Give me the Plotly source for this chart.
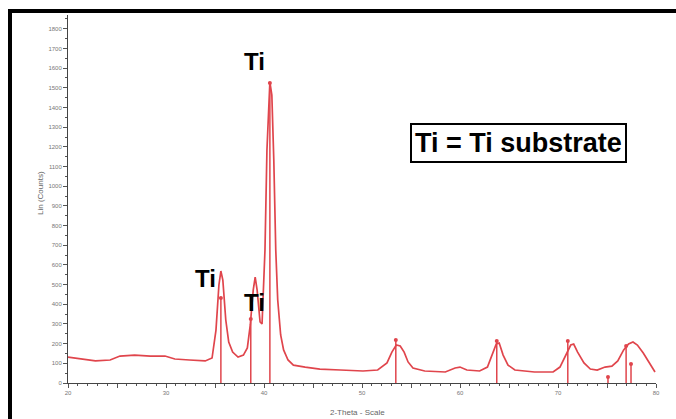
import plotly.graph_objects as go

# XRD pattern (2-theta in degrees, intensity in counts)
two_theta = [20.0, 21.2, 22.8, 24.3, 25.3, 26.8, 28.4, 29.9, 30.9, 32.4, 34.0, 34.7,
             35.1, 35.4, 35.6, 35.8, 36.1, 36.4, 36.8, 37.35, 37.9, 38.3, 38.6, 38.9,
             39.1, 39.3, 39.6, 39.8, 40.1, 40.3, 40.5, 40.6, 40.8, 41.0, 41.2, 41.4,
             41.7, 42.0, 42.45, 43.0, 44.2, 45.7, 47.8, 50.1, 51.6, 52.55, 53.05, 53.5,
             53.9, 54.3, 54.7, 55.2, 56.4, 58.5, 59.5, 60.0, 60.7, 62.0, 62.8, 63.3,
             63.7, 64.0, 64.4, 64.9, 65.6, 67.6, 69.5, 70.2, 70.8, 71.3, 71.6, 72.0,
             72.65, 73.3, 74.0, 74.8, 75.5, 76.1, 76.7, 77.2, 77.65, 78.1, 78.7, 79.4, 79.9]
counts = [132, 122, 112, 117, 137, 142, 137, 137, 122, 117, 112, 127,
          269, 498, 569, 523, 320, 208, 157, 132, 142, 178, 295, 472,
          538, 472, 310, 300, 676, 1184, 1488, 1529, 1463, 1133, 676, 422,
          244, 168, 117, 91, 81, 71, 66, 61, 66, 102, 157, 193,
          188, 157, 107, 76, 61, 56, 76, 81, 66, 61, 81, 142,
          198, 203, 142, 91, 66, 56, 56, 81, 142, 193, 198, 157,
          102, 71, 66, 81, 86, 112, 168, 198, 208, 193, 152, 97, 56]

# Reference (Ti) stick pattern
stick_pos = [35.6, 38.65, 40.6, 53.45, 63.75, 71.0, 75.1, 76.95, 77.45]
stick_int = [432, 325, 1524, 218, 213, 213, 30, 188, 97]

# Axis ticks
x_ticks = [20, 25, 30, 35, 40, 45, 50, 55, 60, 65, 70, 75, 80]
x_ticktext = ["20", "", "30", "", "40", "", "50", "", "60", "", "70", "", "80"]
y_ticks = list(range(0, 1900, 100))

RED = "#e0454c"

sx, sy = [], []
for p, v in zip(stick_pos, stick_int):
    sx += [p, p, None]
    sy += [0, v, None]

fig = go.Figure()
fig.add_trace(go.Scatter(x=sx, y=sy, mode="lines",
                         line=dict(color=RED, width=1.5), hoverinfo="skip"))
fig.add_trace(go.Scatter(x=two_theta, y=counts, mode="lines",
                         line=dict(color=RED, width=1.7)))
fig.add_trace(go.Scatter(x=stick_pos, y=stick_int, mode="markers",
                         marker=dict(color=RED, size=4)))

W, H = 676, 419
L, R, T, B = 68, 20, 15, 36

def px(x):
    return (x - L) / (W - L - R)

def py(y):
    return (H - B - y) / (H - T - B)

tick_font = dict(family="Liberation Sans, Arial", size=6, color="#777777")
label_font = dict(family="Liberation Sans, Arial", size=24, color="black")


def note(text, x, y, **kw):
    d = dict(text=text, x=px(x), y=py(y), xref="paper", yref="paper",
             xanchor="center", yanchor="middle", showarrow=False)
    d.update(kw)
    return d


fig.update_layout(
    width=W, height=H,
    margin=dict(l=L, r=R, t=T, b=B),
    paper_bgcolor="white", plot_bgcolor="white",
    showlegend=False,
    xaxis=dict(range=[20, 80], tickvals=x_ticks, ticktext=x_ticktext,
               ticks="outside", ticklen=4, tickcolor="#555555", tickwidth=1,
               minor=dict(dtick=1, ticks="outside", ticklen=2, tickcolor="#555555"),
               showgrid=False, zeroline=False, showline=True, linecolor="#444444",
               linewidth=1, tickfont=tick_font),
    yaxis=dict(range=[0, 1870], tickvals=y_ticks,
               ticks="outside", ticklen=4, tickcolor="#555555", tickwidth=1,
               minor=dict(dtick=50, ticks="outside", ticklen=2, tickcolor="#555555"),
               showgrid=False, zeroline=False, showline=True, linecolor="#444444",
               linewidth=1, tickfont=tick_font),
    annotations=[
        note("<b>Ti</b>", 254, 62, font=label_font),
        note("<b>Ti</b>", 205, 278, font=label_font),
        note("<b>Ti</b>", 254, 302, font=label_font),
        note("<b>Ti = Ti substrate</b>", 518, 143,
             font=dict(family="Liberation Sans, Arial", size=27, color="black"),
             bordercolor="black", borderwidth=2, borderpad=3, bgcolor="white"),
        note("Lin (Counts)", 40, 193, textangle=-90,
             font=dict(family="Liberation Sans, Arial", size=8, color="#666666")),
        note("2-Theta - Scale", 357, 412,
             font=dict(family="Liberation Sans, Arial", size=8, color="#666666")),
    ],
    shapes=[
        dict(type="line", xref="paper", yref="paper", x0=px(10), x1=px(10),
             y0=py(9), y1=py(425), line=dict(color="black", width=4)),
        dict(type="line", xref="paper", yref="paper", x0=px(8), x1=px(680),
             y0=py(11), y1=py(11), line=dict(color="black", width=4)),
    ],
)

fig.write_html("out.html")
